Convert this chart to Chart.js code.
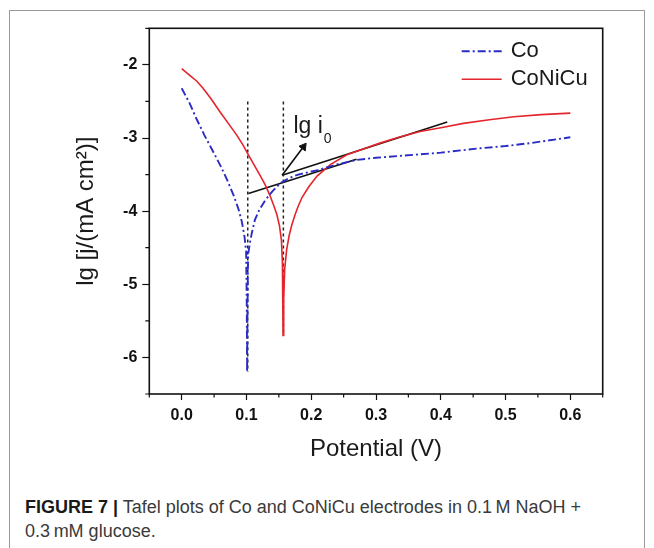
<!DOCTYPE html>
<html>
<head>
<meta charset="utf-8">
<script src="https://cdn.jsdelivr.net/npm/chart.js@4.4.0/dist/chart.umd.min.js"></script>
<style>
  html, body { margin: 0; padding: 0; background: #fff; }
  body { width: 654px; height: 548px; position: relative; overflow: hidden; font-family: 'Liberation Sans', Arial, sans-serif; }
  #frame { position: absolute; left: 9px; top: 10px; width: 634px; height: 600px; border: 1px solid #9a9a9a; }
  #wrap { position: absolute; left: 0; top: 0; width: 654px; height: 480px; }
  #caption { position: absolute; left: 25px; top: 495px; width: 610px; font-family: 'Liberation Sans', Arial, sans-serif; font-size: 18px; line-height: 24px; color: #3a3a3a; }
  #caption b { color: #1a1a1a; }
</style>
</head>
<body>
<div id="frame"></div>
<div id="wrap"><canvas id="tafel"></canvas></div>
<div id="caption"><b>FIGURE 7 |</b> Tafel plots of Co and CoNiCu electrodes in 0.1&#8201;M NaOH +<br>0.3&#8201;mM glucose.</div>
<script>
// values: potential in V, lg j
const coPotential = [0, 0.012, 0.023, 0.035, 0.047, 0.06, 0.07, 0.08, 0.088, 0.093, 0.097, 0.0995, 0.1005, 0.101, 0.1015, 0.1025, 0.105, 0.108, 0.113, 0.12, 0.129, 0.14, 0.152, 0.165, 0.18, 0.21, 0.24, 0.27, 0.3, 0.358, 0.4, 0.461, 0.5, 0.538, 0.6];
const coLogJ = [-2.32, -2.52, -2.74, -2.96, -3.16, -3.38, -3.57, -3.78, -3.98, -4.15, -4.35, -4.55, -5.3, -6.2, -5.4, -4.6, -4.45, -4.31, -4.12, -3.98, -3.85, -3.73, -3.62, -3.55, -3.5, -3.44, -3.36, -3.3, -3.27, -3.23, -3.2, -3.14, -3.11, -3.07, -2.99];

const coniPotential = [0, 0.012, 0.023, 0.033, 0.045, 0.059, 0.072, 0.085, 0.095, 0.103, 0.112, 0.121, 0.129, 0.136, 0.142, 0.147, 0.151, 0.154, 0.1555, 0.156, 0.1565, 0.1575, 0.159, 0.162, 0.166, 0.17, 0.175, 0.18, 0.186, 0.196, 0.209, 0.23, 0.255, 0.28, 0.306, 0.335, 0.368, 0.4, 0.435, 0.475, 0.513, 0.555, 0.6];
const coniLogJ = [-2.05, -2.14, -2.22, -2.32, -2.46, -2.64, -2.8, -2.96, -3.1, -3.23, -3.37, -3.51, -3.64, -3.78, -3.92, -4.05, -4.2, -4.4, -4.7, -5.2, -5.7, -5.2, -4.8, -4.53, -4.33, -4.19, -4.05, -3.93, -3.81, -3.67, -3.52, -3.36, -3.23, -3.15, -3.07, -2.99, -2.91, -2.86, -2.8, -2.75, -2.71, -2.68, -2.66];

const dotLinePotentials = [0.102, 0.157];
const dotLineTop = [-2.5, -2.5];
const dotLineBottom = [-6.2, -5.7];

const lowerTangentPotential = [0.103, 0.27];
const lowerTangentLogJ = [-3.76, -3.29];
const upperTangentPotential = [0.155, 0.41];
const upperTangentLogJ = [-3.51, -2.78];
const arrowPotential = [0.155, 0.188];
const arrowLogJ = [-3.51, -3.12];
const i0LabelPoint = [0.1725, -2.93];

const xTicksMin = -0.05;
const xTicksMax = 0.65;
const yTicksMin = -6.5;
const yTicksMax = -1.5;

const FONT = "'Liberation Sans', Arial, sans-serif";
const BLUE = '#2b2bc6';
const RED = '#e4252c';

function toPoints (xs, ys) {
  return xs.map((x, i) => ({ x, y: ys[i] }));
}

const isMajorX = v => Math.abs(v * 10 - Math.round(v * 10)) < 1e-6;
const isMajorY = v => Math.abs(v - Math.round(v)) < 1e-6;

// box round the plot, short minor ticks
const plotFrame = {
  id: 'plotFrame',
  afterDraw (chart) {
    const { ctx, chartArea: a, scales } = chart;
    ctx.save();
    ctx.strokeStyle = '#111';
    ctx.lineWidth = 1.2;
    ctx.beginPath();
    scales.x.ticks.forEach(t => {
      if (isMajorX(t.value)) return;
      const px = scales.x.getPixelForValue(t.value);
      ctx.moveTo(px, a.bottom);
      ctx.lineTo(px, a.bottom + 3.5);
    });
    scales.y.ticks.forEach(t => {
      if (isMajorY(t.value)) return;
      const py = scales.y.getPixelForValue(t.value);
      ctx.moveTo(a.left, py);
      ctx.lineTo(a.left - 4, py);
    });
    ctx.stroke();
    ctx.lineWidth = 1.6;
    ctx.strokeRect(a.left, a.top, a.right - a.left, a.bottom - a.top);
    ctx.restore();
  }
};

const insetLegend = {
  id: 'insetLegend',
  afterDatasetsDraw (chart) {
    const { ctx, chartArea: a } = chart;
    ctx.save();
    ctx.font = '22px ' + FONT;
    ctx.textBaseline = 'middle';
    [0, 1].forEach((i, row) => {
      const ds = chart.data.datasets[i];
      const y = a.top + 23 + row * 28;
      ctx.beginPath();
      ctx.setLineDash(ds.borderDash || []);
      ctx.strokeStyle = ds.borderColor;
      ctx.lineWidth = ds.borderWidth;
      ctx.moveTo(a.right - 141, y);
      ctx.lineTo(a.right - 101, y);
      ctx.stroke();
      ctx.setLineDash([]);
      ctx.fillStyle = '#1a1a1a';
      ctx.fillText(ds.label, a.right - 92, y);
    });
    // lg i0 label
    const lx = chart.scales.x.getPixelForValue(i0LabelPoint[0]);
    const ly = chart.scales.y.getPixelForValue(i0LabelPoint[1]);
    ctx.textBaseline = 'alphabetic';
    ctx.font = '23px ' + FONT;
    ctx.fillText('lg i', lx, ly);
    const w = ctx.measureText('lg i').width;
    ctx.font = '14px ' + FONT;
    ctx.fillText('0', lx + w + 1, ly + 10);
    ctx.restore();
  }
};

const lineSet = (label, xs, ys, color, width, dash) => ({
  label,
  data: toPoints(xs, ys),
  showLine: true,
  borderColor: color,
  borderWidth: width,
  borderDash: dash,
  pointRadius: 0,
  tension: 0
});

const datasets = [
  lineSet('Co', coPotential, coLogJ, BLUE, 1.9, [8, 3, 2, 3]),
  lineSet('CoNiCu', coniPotential, coniLogJ, RED, 1.6, []),
  lineSet('dot1', [dotLinePotentials[0], dotLinePotentials[0]], [dotLineTop[0], dotLineBottom[0]], '#222', 1.5, [3, 3]),
  lineSet('dot2', [dotLinePotentials[1], dotLinePotentials[1]], [dotLineTop[1], dotLineBottom[1]], '#222', 1.5, [3, 3]),
  lineSet('tangent1', lowerTangentPotential, lowerTangentLogJ, '#111', 1.6, []),
  lineSet('tangent2', upperTangentPotential, upperTangentLogJ, '#111', 1.6, []),
  Object.assign(lineSet('arrow', arrowPotential, arrowLogJ, '#111', 1.6, []), {
    pointRadius: [0, 4.5],
    pointStyle: 'triangle',
    pointBackgroundColor: '#111',
    pointBorderWidth: 1,
    pointRotation (ctx) {
      const { x, y } = ctx.chart.scales;
      const dx = x.getPixelForValue(arrowPotential[1]) - x.getPixelForValue(arrowPotential[0]);
      const dy = y.getPixelForValue(arrowLogJ[1]) - y.getPixelForValue(arrowLogJ[0]);
      return Math.atan2(dx, -dy) * 180 / Math.PI;
    }
  })
];

// eslint-disable-next-line no-undef
const tafelChart = new Chart('tafel', {
  type: 'scatter',
  data: { datasets },
  plugins: [plotFrame, insetLegend],
  options: {
    responsive: true,
    maintainAspectRatio: false,
    animation: false,
    layout: { padding: { top: 28.3, right: 51.3, bottom: 6, left: 0 } },
    plugins: { legend: { display: false }, tooltip: { enabled: false } },
    scales: {
      x: {
        type: 'linear',
        min: xTicksMin,
        max: xTicksMax,
        afterFit (scale) { scale.height = 80; },
        border: { display: false },
        grid: {
          drawOnChartArea: false,
          drawTicks: true,
          tickLength: 6,
          tickWidth: 1.2,
          tickColor: ctx => (ctx.tick && isMajorX(ctx.tick.value)) ? '#111' : 'rgba(0,0,0,0)'
        },
        ticks: {
          stepSize: 0.05,
          autoSkip: false,
          maxRotation: 0,
          minRotation: 0,
          padding: 6,
          color: '#111',
          font: { family: FONT, size: 16, weight: 'bold' },
          callback: v => isMajorX(v) ? v.toFixed(1) : ''
        },
        title: {
          display: true,
          text: 'Potential (V)',
          color: '#1a1a1a',
          font: { family: FONT, size: 24 },
          padding: { top: 0, bottom: 10.6 }
        }
      },
      y: {
        type: 'linear',
        min: yTicksMin,
        max: yTicksMax,
        afterFit (scale) { scale.width = 149.3; },
        border: { display: false },
        grid: {
          drawOnChartArea: false,
          drawTicks: true,
          tickLength: 7,
          tickWidth: 1.2,
          tickColor: ctx => (ctx.tick && isMajorY(ctx.tick.value)) ? '#111' : 'rgba(0,0,0,0)'
        },
        ticks: {
          stepSize: 0.5,
          autoSkip: false,
          padding: 5,
          color: '#111',
          font: { family: FONT, size: 16, weight: 'bold' },
          callback: v => isMajorY(v) ? String(Math.round(v)) : ''
        },
        title: {
          display: true,
          text: 'lg [j/(mA cm²)]',
          color: '#1a1a1a',
          font: { family: FONT, size: 24 },
          padding: { top: 71.6, bottom: 0 }
        }
      }
    }
  }
});
</script>
</body>
</html>
